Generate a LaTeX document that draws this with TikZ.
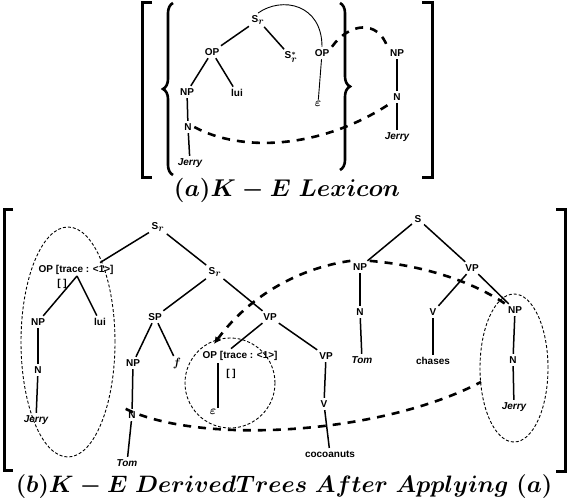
\documentclass[tikz,border=0pt]{standalone}
\usepackage{graphicx}
\usepackage{fontspec}
\setmainfont{Liberation Sans}
\usetikzlibrary{decorations.pathreplacing,arrows.meta,calc}
\begin{document}
\begin{tikzpicture}[x=1pt,y=-1pt,
  lab/.style={font=\bfseries\boldmath\fontsize{10}{12}\selectfont, inner sep=2.5pt},
  ilab/.style={font=\bfseries\itshape\fontsize{10}{12}\selectfont, inner sep=2.5pt},
  elab/.style={font=\boldmath\fontsize{13}{14}\selectfont, inner sep=1.5pt},
  tline/.style={line width=1.5pt},
  thinarc/.style={line width=0.9pt},
  bigdash/.style={line width=2.6pt, dash pattern=on 8pt off 7pt},
  ring/.style={line width=0.9pt, dash pattern=on 3pt off 2pt},
  brk/.style={line width=3pt},
  bracestyle/.style={line width=2.6pt, decorate, decoration={brace, amplitude=10pt}},
  capt/.style={font=\boldmath\fontsize{25}{30}\selectfont, inner sep=0pt}]
\useasboundingbox (0,0) rectangle (572,502);
\fill[white] (0,0) rectangle (572,502);

% ---------- (a) ----------
\draw[brk] (152,3) -- (142,3) -- (142,178) -- (152,178);
\draw[brk] (422,3) -- (432,3) -- (432,178) -- (422,178);
\draw[bracestyle] (173,175) -- (173,3);
\draw[bracestyle] (340,3) -- (340,170);

\node[lab] (Sr) at (258,20) {S$_{\textstyle r}$};
\node[lab] (OPa) at (212,52) {OP};
\node[lab] (Sst) at (291,57) {S$^*_{\textstyle r}$};
\node[lab] (OPb) at (322,53) {OP};
\node[lab] (NPa) at (187,92) {NP};
\node[lab] (luia) at (237,93) {lui};
\node[elab] (epsa) at (318,104) {$\varepsilon$};
\node[lab] (Na) at (188,127) {N};
\node[ilab] (Jerrya) at (190,163) {Jerry};
\node[lab] (NPr) at (397,53) {NP};
\node[lab] (Nr) at (397,97) {N};
\node[ilab] (Jerryr) at (397,137) {Jerry};

\draw[tline] (Sr) -- (OPa);
\draw[tline] (Sr) -- (Sst);
\draw[tline] (OPa) -- (NPa);
\draw[tline] (OPa) -- (luia);
\draw[tline] (NPa) -- (Na);
\draw[tline] (Na) -- (Jerrya);
\draw[thinarc] (OPb) -- (epsa);
\draw[tline] (NPr) -- (Nr);
\draw[tline] (Nr) -- (Jerryr);

\draw[thinarc] (Sr.north) .. controls (282,-4) and (322,4) .. (OPb.north);
\draw[bigdash] (OPb.north east) .. controls (350,22) and (378,20) .. (NPr.north west);
\draw[bigdash] (Na.east) .. controls (240,152) and (320,150) .. (Nr.south west);

\node[capt] (capa) at (287,190) {\scalebox{0.975}{$(a)K - E\;Lexicon$}};

% ---------- (b) ----------
\draw[brk] (13,210) -- (4,210) -- (4,470) -- (13,470);
\draw[brk] (556,210) -- (565,210) -- (565,471) -- (556,471);

\draw[ring] (68,342) ellipse [x radius=47pt, y radius=115pt];
\draw[ring] (230,383) circle [radius=45pt];
\draw[ring] (514,368) ellipse [x radius=34pt, y radius=74pt];

\node[lab] (Sr1) at (158,227) {S$_{\textstyle r}$};
\node[lab, anchor=west] (OPt1) at (36,270) {OP [trace : <1>]};
\node[lab] (br1) at (62,284) {[ ]};
\coordinate (ap1) at (77,276);
\node[lab] (Sr2) at (215,272) {S$_{\textstyle r}$};
\node[lab] (NPb) at (38,322) {NP};
\node[lab] (luib) at (100,322) {lui};
\node[lab] (N1) at (38,370) {N};
\node[ilab] (Jerry1) at (36,420) {Jerry};
\node[lab] (SP) at (155,317) {SP};
\node[lab] (VP1) at (270,317) {VP};
\node[lab] (NP2) at (133,363) {NP};
\node[elab] (fb) at (177,363) {$f$};
\node[lab] (N2) at (132,415) {N};
\node[ilab] (Tom1) at (127,463) {Tom};
\node[lab, anchor=west] (OPt2) at (200,356) {OP [trace : <1>]};
\node[lab] (br2) at (231,374) {[ ]};
\node[elab] (eps2) at (213,412) {$\varepsilon$};
\node[lab] (VP2) at (326,356) {VP};
\node[lab] (V2) at (324,404) {V};
\node[lab] (coco) at (330,454) {cocoanuts};
\node[lab] (S3) at (418,219) {S};
\node[lab] (NP3) at (360,267) {NP};
\node[lab] (VP3) at (472,268) {VP};
\node[lab] (N3) at (360,312) {N};
\node[ilab] (Tom3) at (362,360) {Tom};
\node[lab] (V3) at (433,312) {V};
\node[lab] (chases) at (433,361) {chases};
\node[lab] (NP4) at (515,310) {NP};
\node[lab] (N4) at (513,360) {N};
\node[ilab] (Jerry4) at (514,407) {Jerry};

\draw[tline] (Sr1) -- (OPt1.north -| luib);
\draw[tline] (Sr1) -- (Sr2);
\draw[tline] (ap1) -- (NPb);
\draw[tline] (ap1) -- (luib);
\draw[tline] (NPb) -- (N1);
\draw[tline] (N1) -- (Jerry1);
\draw[tline] (Sr2) -- (SP);
\draw[tline] (Sr2) -- (VP1);
\draw[tline] (SP) -- (NP2);
\draw[tline] (SP) -- (fb);
\draw[tline] (NP2) -- (N2);
\draw[tline] (N2) -- (Tom1);
\draw[tline] (VP1) -- (OPt2.north -| br2);
\draw[tline] (VP1) -- (VP2);
\draw[tline] (eps2.north east) -- (eps2.north east |- OPt2.south);
\draw[tline] (VP2) -- (V2);
\draw[tline] (V2) -- (coco);
\draw[tline] (S3) -- (NP3);
\draw[tline] (S3) -- (VP3);
\draw[tline] (NP3) -- (N3);
\draw[tline] (N3) -- (Tom3);
\draw[tline] (VP3) -- (V3);
\draw[tline] (VP3) -- (NP4);
\draw[tline] (V3) -- (chases);
\draw[tline] (NP4) -- (N4);
\draw[tline] (N4) -- (Jerry4);

\coordinate (tipA) at (214,344);
\coordinate (rEll) at (481,382);
\draw[bigdash, -{Latex[length=7pt,width=7pt]}] (NP3.north west) .. controls (300,268) and (250,295) .. (tipA);
\draw[bigdash] (NP3.north east) .. controls (420,265) and (470,280) .. (NP4.north west);
\draw[bigdash] (N2.north west) .. controls (200,445) and (380,435) .. (rEll);

\node[capt] (capb) at (284,487) {\scalebox{0.955}{$(b)K - E\;DerivedTrees\;After\;Applying\;(a)$}};
\end{tikzpicture}
\end{document}
